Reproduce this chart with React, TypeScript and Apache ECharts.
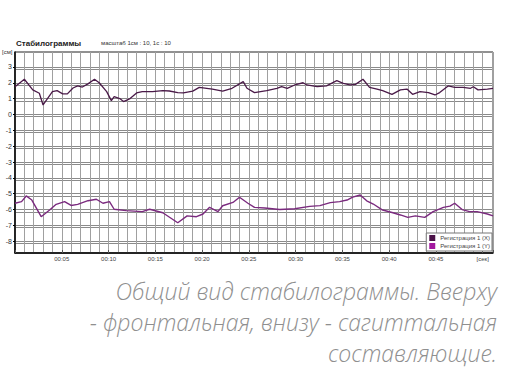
import React, { useEffect, useRef } from 'react';
import * as echarts from 'echarts';

// Frontal (X) component: time [s], displacement [cm]
const frontalTime = [0, 1.0, 1.9, 2.6, 3.0, 4.0, 4.5, 5.1, 5.6, 6.2, 6.7, 7.2, 7.8, 8.5, 9.0, 9.8, 10.3, 10.6, 11.2, 11.6, 12.3, 13.0, 13.6, 14.7, 15.8, 16.5, 17.4, 18.0, 19.0, 19.7, 21.1, 22.2, 23.2, 24.4, 24.8, 25.6, 26.9, 28.0, 28.5, 29.1, 29.9, 30.8, 31.2, 32.3, 33.3, 34.4, 35.1, 35.8, 36.4, 37.2, 37.9, 38.7, 39.3, 40.3, 41.2, 41.9, 42.5, 43.3, 44.2, 44.9, 45.4, 46.3, 47.0, 47.9, 48.7, 49.0, 49.5, 50.5, 51.1];
const frontalValue = [1.75, 2.22, 1.55, 1.34, 0.6, 1.44, 1.5, 1.3, 1.3, 1.67, 1.8, 1.73, 1.93, 2.22, 2.0, 1.44, 0.87, 1.12, 1.0, 0.81, 1.0, 1.36, 1.44, 1.44, 1.5, 1.48, 1.38, 1.36, 1.47, 1.71, 1.6, 1.47, 1.65, 2.07, 1.65, 1.38, 1.5, 1.65, 1.75, 1.65, 1.86, 2.0, 1.86, 1.75, 1.8, 2.13, 1.96, 1.86, 1.9, 2.22, 1.71, 1.6, 1.5, 1.27, 1.55, 1.6, 1.27, 1.44, 1.38, 1.23, 1.38, 1.8, 1.71, 1.71, 1.65, 1.75, 1.55, 1.6, 1.65];

// Sagittal (Y) component
const sagittalTime = [0, 0.7, 1.2, 1.8, 2.8, 3.7, 4.4, 5.3, 6.0, 6.7, 7.8, 8.7, 9.4, 10.1, 10.6, 11.9, 13.6, 14.4, 15.8, 17.4, 18.4, 19.4, 20.1, 20.8, 21.7, 22.2, 23.3, 24.0, 24.9, 25.6, 26.7, 28.3, 29.9, 31.5, 32.6, 33.7, 34.7, 35.5, 36.1, 36.9, 37.6, 38.3, 39.3, 40.4, 41.2, 42.0, 42.8, 43.8, 44.7, 45.8, 46.5, 47.0, 47.8, 48.6, 49.4, 50.5, 51.1];
const sagittalValue = [-5.6, -5.5, -5.14, -5.4, -6.45, -6.03, -5.67, -5.5, -5.74, -5.67, -5.44, -5.35, -5.6, -5.5, -5.98, -6.07, -6.13, -5.98, -6.2, -6.83, -6.4, -6.45, -6.28, -5.86, -6.13, -5.76, -5.55, -5.22, -5.6, -5.86, -5.9, -6.0, -5.95, -5.8, -5.75, -5.56, -5.5, -5.4, -5.22, -5.08, -5.45, -5.65, -6.03, -6.2, -6.34, -6.49, -6.4, -6.49, -6.13, -5.86, -5.78, -5.6, -6.0, -6.13, -6.13, -6.28, -6.4];

const yTickValues = [3, 2, 1, 0, -1, -2, -3, -4, -5, -6, -7, -8];
const xLabelSeconds = [5, 10, 15, 20, 25, 30, 35, 40, 45, 50];
const seriesNames = ['Регистрация 1 (X)', 'Регистрация 1 (Y)'];
const chartTitle = 'Стабилограммы';
const scaleNote = 'масштаб 1см : 10, 1с : 10';
const yUnit = '[см]';
const xUnit = '[сек]';
const captionLines = [
  'Общий вид стабилограммы. Вверху',
  '- фронтальная, внизу - сагиттальная',
  'составляющие.',
];

const Y_MIN = -8.74;
const Y_MAX = 3.94;
const X_MAX = 51.1;

export default function App() {
  const ref = useRef<HTMLDivElement>(null);

  useEffect(() => {
    if (!ref.current) return;
    const chart = echarts.init(ref.current, null, { renderer: 'svg' });
    const small = 'Liberation Sans';
    const pad = (v: number) => (v < 10 ? '0' + v : String(v));

    chart.setOption({
      animation: false,
      backgroundColor: '#ffffff',
      grid: {
        left: 15,
        right: 33,
        top: 52,
        bottom: 129,
        show: true,
        borderColor: '#222',
        borderWidth: 1,
        backgroundColor: '#fff',
      },
      legend: {
        data: seriesNames,
        orient: 'vertical',
        right: 34,
        bottom: 131,
        icon: 'rect',
        itemWidth: 6,
        itemHeight: 6,
        itemGap: 2,
        padding: [2, 2, 2, 3],
        backgroundColor: '#fff',
        borderColor: '#777',
        borderWidth: 1,
        textStyle: { fontSize: 6, color: '#444', fontFamily: small },
      },
      xAxis: [
        {
          type: 'value',
          min: 0,
          max: X_MAX,
          interval: 1,
          axisLine: { show: true, onZero: false, lineStyle: { color: '#000', width: 1.5 } },
          axisTick: { show: false },
          splitLine: { show: true, lineStyle: { color: '#a0a0a0', width: 1 } },
          axisLabel: {
            fontSize: 6,
            color: '#444',
            fontFamily: small,
            margin: 3,
            showMaxLabel: false,
            formatter: (v: number) =>
              xLabelSeconds.includes(v) ? (v === 50 ? xUnit : '00:' + pad(v)) : '',
          },
        },
        {
          type: 'value',
          min: 0,
          max: X_MAX,
          interval: 5,
          position: 'bottom',
          axisLine: { show: false, onZero: false },
          axisTick: { show: true, length: 3, inside: true, lineStyle: { color: '#555' } },
          axisLabel: { show: false },
          splitLine: { show: false },
        },
      ],
      yAxis: [
        {
          type: 'value',
          min: Y_MIN,
          max: Y_MAX,
          axisLine: { show: true, onZero: false, lineStyle: { color: '#000', width: 1.5 } },
          axisTick: {
            show: true,
            length: 2,
            customValues: yTickValues,
            lineStyle: { color: '#000' },
          },
          axisLabel: {
            customValues: yTickValues,
            fontSize: 7,
            color: '#333',
            fontFamily: small,
            margin: 3,
          },
          splitLine: { show: true, lineStyle: { color: '#8a8a8a', width: 1 } },
        },
        {
          type: 'value',
          min: Y_MIN + 0.14,
          max: Y_MAX + 0.14,
          axisLine: { show: false, onZero: false },
          axisTick: { show: false, customValues: yTickValues },
          axisLabel: { show: false },
          splitLine: { show: true, lineStyle: { color: '#8a8a8a', width: 1 } },
        },
      ],
      graphic: [
        {
          type: 'text',
          left: 16,
          top: 39,
          style: { text: chartTitle, fontSize: 8, fontWeight: 'bold', fill: '#222', fontFamily: small },
        },
        {
          type: 'text',
          left: 101,
          top: 40,
          style: { text: scaleNote, fontSize: 6, fill: '#333', fontFamily: small },
        },
        {
          type: 'text',
          left: 2,
          top: 49,
          style: { text: yUnit, fontSize: 6, fill: '#333', fontFamily: small },
        },
        ...captionLines.map((line, i) => ({
          type: 'text',
          x: 497,
          y: 291 + i * 31,
          style: {
            text: line,
            fontSize: 23,
            fontStyle: 'italic',
            fontWeight: 300,
            fill: '#8f8f8f',
            fontFamily: 'Open Sans',
            textAlign: 'right',
            textVerticalAlign: 'middle',
          },
        })),
      ],
      series: [
        {
          name: seriesNames[0],
          type: 'line',
          xAxisIndex: 0,
          yAxisIndex: 0,
          data: frontalTime.map((t, i) => [t, frontalValue[i]]),
          showSymbol: false,
          symbol: 'none',
          itemStyle: { color: '#4b1248' },
          lineStyle: { color: '#4a1a48', width: 1.3 },
          z: 5,
        },
        {
          name: seriesNames[1],
          type: 'line',
          xAxisIndex: 0,
          yAxisIndex: 0,
          data: sagittalTime.map((t, i) => [t, sagittalValue[i]]),
          showSymbol: false,
          symbol: 'none',
          itemStyle: { color: '#a3189f' },
          lineStyle: { color: '#7a2a7e', width: 1.4 },
          z: 5,
        },
      ],
    });

    return () => chart.dispose();
  }, []);

  return (
    <div
      ref={ref}
      style={{ position: 'fixed', left: 0, top: 0, width: 526, height: 382, background: '#fff' }}
    />
  );
}
